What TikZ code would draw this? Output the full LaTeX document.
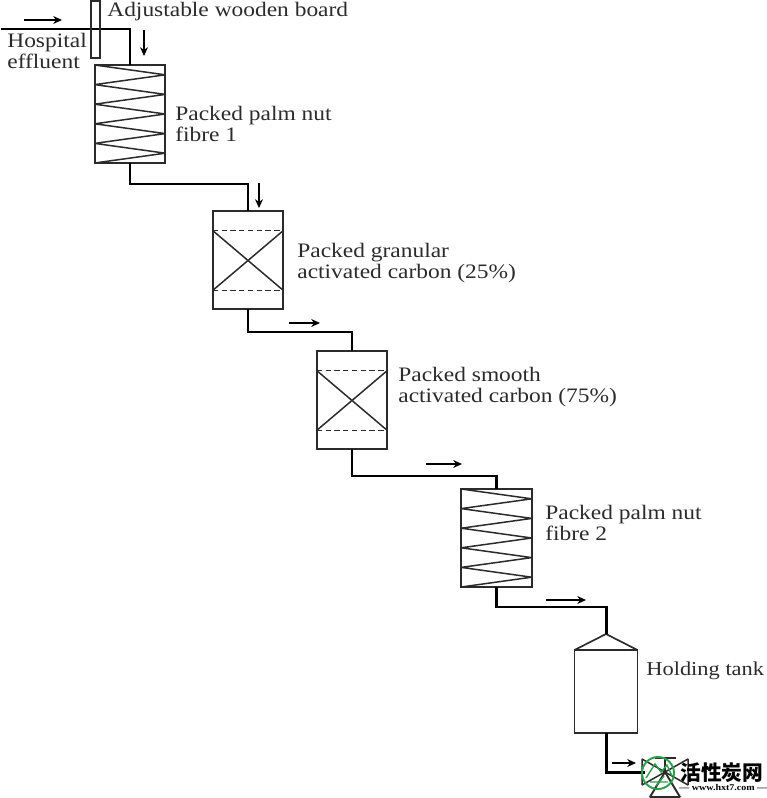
\documentclass[tikz,border=0pt]{standalone}
\usepackage{fontspec}
\setmainfont[FakeStretch=1.14]{Liberation Serif}
\newfontfamily\cjkfont{Noto Sans CJK SC}
\usetikzlibrary{arrows.meta,calc}
\definecolor{inkcol}{HTML}{2B2B2B}
\definecolor{markcol}{HTML}{2E9E4F}
\tikzset{
  bed/.style={draw=inkcol, line width=0.95pt, rectangle, inner sep=0pt, outer sep=0pt,
    minimum width=1.41cm, minimum height=1.96cm},
  pipe/.style={draw=black, line width=1.7pt},
  packing/.style={draw=inkcol, line width=0.85pt, line join=bevel},
  flowarrow/.style={-{Stealth[length=5pt,width=4.5pt]}, black, line width=0.6pt},
  lab/.style={anchor=west, align=left, inner sep=0pt, text=inkcol,
    font=\fontsize{11.7}{12.4}\selectfont}
}
\newcommand{\zigzagbed}[1]{
  \draw[packing] (#1.north west)
    \foreach \r/\l in {.1/.2,.3/.4,.5/.6,.7/.8,.9/1} {
      -- ($(#1.north east)!\r!(#1.south east)$) -- ($(#1.north west)!\l!(#1.south west)$)
    };
}
\newcommand{\crossbed}[1]{
  \coordinate (#1tl) at ($(#1.north west)!.2!(#1.south west)$);
  \coordinate (#1tr) at ($(#1.north east)!.2!(#1.south east)$);
  \coordinate (#1bl) at ($(#1.north west)!.81!(#1.south west)$);
  \coordinate (#1br) at ($(#1.north east)!.81!(#1.south east)$);
  \draw[packing, densely dashed] (#1tl) -- (#1tr) (#1bl) -- (#1br);
  \draw[packing] (#1tl) -- (#1br) (#1tr) -- (#1bl);
}
\begin{document}
\begin{tikzpicture}[x=0.02cm, y=-0.02cm]
\useasboundingbox (0,0) rectangle (767,798);

% ---------------------------------------------------------------- vessels
\node[bed] (fibreone) at (130,114) {};
\node[bed] (granular) at (248,260) {};
\node[bed] (smooth) at (352,400) {};
\node[bed] (fibretwo) at (496.5,538) {};
\node[bed, minimum width=1.26cm, minimum height=1.66cm] (tank) at (606,691.5) {};
\coordinate (tanktop) at (606,634);
\draw[bed] (tank.north west) -- (tanktop) -- (tank.north east);
\zigzagbed{fibreone}
\zigzagbed{fibretwo}
\crossbed{granular}
\crossbed{smooth}

% ---------------------------------------------------------------- pipework
\coordinate (inlet) at (1,29);
\coordinate (valve) at (645,772);
\draw[pipe] (inlet) -| (fibreone.north);
\draw[pipe] (fibreone.south) -- ++(0,21) -| (granular.north);
\draw[pipe] (granular.south) -- ++(0,23) -| (smooth.north);
\draw[pipe] (smooth.south) -- ++(0,27) -| (fibretwo.north);
\draw[pipe] (fibretwo.south) -- ++(0,20) -| (tanktop);
\draw[pipe] (tank.south) |- (valve);

% board across the inlet
\node[draw=inkcol, line width=0.95pt, inner sep=0pt, minimum width=0.18cm, minimum height=1.14cm]
  (board) at (95.5,29.5) {};

% ---------------------------------------------------------------- flow arrows
\foreach \nm/\x/\y/\dx/\dy in {flowa/24/20/38/0, flowb/144/30/0/26, flowc/259/183/0/25,
    flowd/289/323/31/0, flowe/426/464/36/0, flowf/546/600/40/0, flowg/612/763/24/0} {
  \coordinate (\nm) at (\x,\y);
  \draw[flowarrow] (\nm) -- ++(\dx,\dy);
}

% ---------------------------------------------------------------- labels
\node[lab] (boardlab) at (107,12) {Adjustable wooden board};
\node[lab] (inletlab) at (7,51) {Hospital\\effluent};
\node[lab] (fibreonelab) at (175,124) {Packed palm nut\\fibre 1};
\node[lab] (granularlab) at (297,263) {Packed granular\\activated carbon (25\%)};
\node[lab] (smoothlab) at (398,387) {Packed smooth\\activated carbon (75\%)};
\node[lab] (fibretwolab) at (545,523) {Packed palm nut\\fibre 2};
\node[lab, font=\fontsize{11.2}{12.4}\selectfont] (tanklab) at (646,671) {Holding tank};

% ---------------------------------------------------------------- outlet valve and site mark
\draw[packing] (valve) ++(-3,-13) -- ++(0,26) -- ++(46,-26) -- ++(0,26) -- cycle;
\draw[packing] (655,758) -- (676,758) (665,758) -- (665,772);
\draw[packing, line width=1.1pt] (665,772) -- (650,797) -- (680,797) -- cycle;
\draw[markcol, line width=1.1pt] (658,773) circle (16);
\draw[markcol, line width=0.8pt] (646,778) -- (655,764) -- (661,772) -- (667,765) -- (672,776)
  (650,782) -- (668,782) (656,786) -- (664,776);
\node[inner sep=0pt, anchor=west, font=\fontsize{11.8}{12}\selectfont\cjkfont\bfseries] (marktext)
  at (680,772.5) {活性炭网};
\node[inner sep=0pt, anchor=west, font=\fontsize{5}{6}\selectfont\bfseries] (markurl)
  at (679,788) {— www.hxt7.com —};
\end{tikzpicture}
\end{document}
